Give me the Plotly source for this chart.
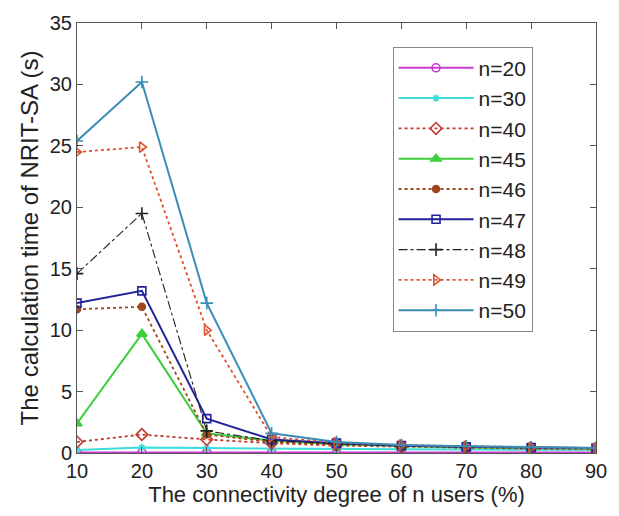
import plotly.graph_objects as go

# Connectivity degree (%) on the x axis
degree = [10, 20, 30, 40, 50, 60, 70, 80, 90]

# Calculation time of NRIT-SA (s) for each number of users
t_n20 = [0.05, 0.05, 0.05, 0.05, 0.05, 0.05, 0.05, 0.05, 0.05]
t_n30 = [0.25, 0.45, 0.40, 0.35, 0.30, 0.30, 0.28, 0.25, 0.25]
t_n40 = [0.9, 1.5, 1.1, 0.8, 0.6, 0.5, 0.4, 0.35, 0.3]
t_n45 = [2.4, 9.7, 1.6, 1.0, 0.7, 0.55, 0.45, 0.4, 0.35]
t_n46 = [11.7, 11.9, 1.5, 0.9, 0.7, 0.55, 0.45, 0.4, 0.35]
t_n47 = [12.2, 13.2, 2.8, 1.1, 0.8, 0.6, 0.5, 0.45, 0.4]
t_n48 = [14.6, 19.5, 1.8, 1.0, 0.75, 0.6, 0.5, 0.45, 0.4]
t_n49 = [24.5, 24.9, 10.0, 1.3, 0.85, 0.65, 0.55, 0.45, 0.4]
t_n50 = [25.4, 30.2, 12.2, 1.6, 0.9, 0.65, 0.55, 0.45, 0.4]

series = [
    ("n=20", t_n20, "#c83ccc", "solid", "circle-open", 8, 2),
    ("n=30", t_n30, "#3fdcdc", "solid", "asterisk-open", 6, 2),
    ("n=40", t_n40, "#c0392b", "dot", "diamond-open", 9, 1.8),
    ("n=45", t_n45, "#3ccf3c", "solid", "triangle-up", 9, 2),
    ("n=46", t_n46, "#a0461e", "dot", "circle", 7, 1.8),
    ("n=47", t_n47, "#22229a", "solid", "square-open", 8, 2),
    ("n=48", t_n48, "#222222", "dashdot", "cross-thin-open", 9, 1.1),
    ("n=49", t_n49, "#e0502c", "dot", "triangle-right-open", 9, 1.8),
    ("n=50", t_n50, "#3a8db5", "solid", "cross-thin-open", 9, 2),
]

fig = go.Figure()
for name, vals, color, dash, symbol, size, width in series:
    fig.add_trace(go.Scatter(
        x=degree, y=vals, name=name, mode="lines+markers",
        legendgroup=name,
        line=dict(color=color, width=width, dash=dash),
        marker=dict(symbol=symbol, size=size, color=color,
                    line=dict(color=color, width=1.6)),
    ))

font_family = "Liberation Sans, Arial"

axis_common = dict(
    showline=True, linecolor="#555", linewidth=1, mirror="ticks",
    ticks="inside", ticklen=6, tickcolor="#555",
    showgrid=False, zeroline=False,
    tickfont=dict(family=font_family, size=20, color="#222"),
)

fig.update_layout(
    width=619, height=516,
    margin=dict(l=77, r=16, t=14, b=63),
    plot_bgcolor="white", paper_bgcolor="white",
    font=dict(family=font_family, color="#222"),
    xaxis=dict(range=[10, 90], tickvals=degree,
               title=dict(text="The connectivity degree of n users (%)",
                          font=dict(size=22), standoff=5),
               **axis_common),
    yaxis=dict(range=[0, 35], tickvals=[0, 5, 10, 15, 20, 25, 30, 35],
               title=dict(text="The calculation time of NRIT-SA (s)",
                          font=dict(size=24), standoff=4),
               **axis_common),
    legend=dict(x=0.608, y=0.945, xanchor="left", yanchor="top",
                bgcolor="white", bordercolor="#888", borderwidth=1,
                font=dict(size=21, color="#222"),
                tracegroupgap=0, itemwidth=75),
    showlegend=True,
)

fig.write_html("out.html")
